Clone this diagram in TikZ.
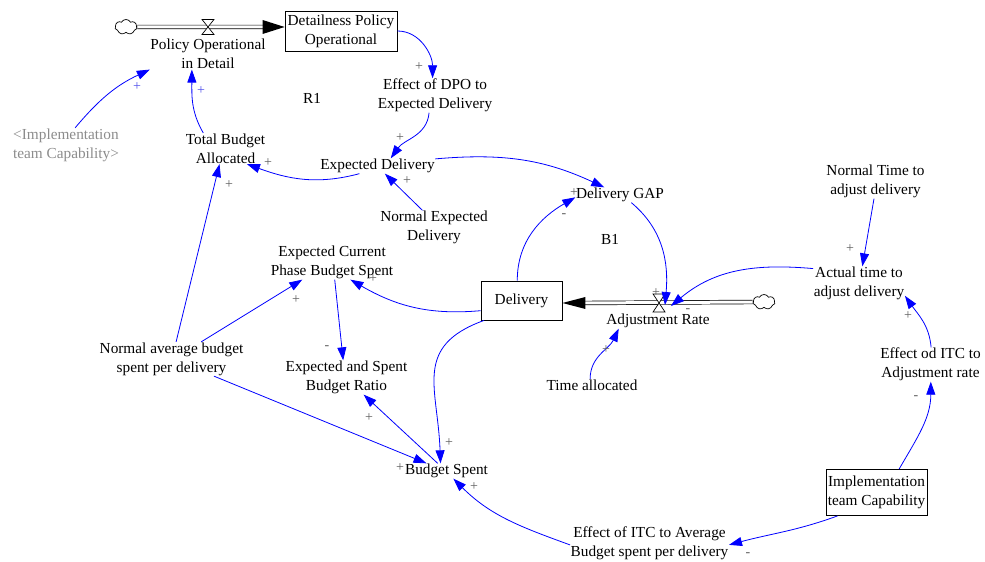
\documentclass[tikz,border=0pt]{standalone}
\usepackage{fontspec}
\setmainfont{Liberation Serif}
\usetikzlibrary{arrows.meta,shapes.symbols}

\definecolor{linkblue}{RGB}{0,0,255}
\definecolor{shadowgray}{RGB}{140,140,140}
\definecolor{signgray}{RGB}{95,95,95}
\definecolor{signblue}{RGB}{80,80,235}

\begin{document}
\begin{tikzpicture}[x=1pt,y=1pt,
  var/.style={font=\fontsize{15.3}{19}\selectfont, align=center, inner sep=0.5pt},
  shadowvar/.style={var, text=shadowgray},
  stock/.style={var, draw, line width=0.8pt, fill=white, inner sep=0pt},
  link/.style={draw=linkblue, line width=0.8pt, -{Triangle[length=13pt,width=9pt]}},
  pipe/.style={draw=black, line width=0.7pt, double=white, double distance=3pt},
  flowtip/.style={fill=black},
  valvebody/.style={draw=black, line width=0.7pt, fill=white},
  sourcecloud/.style={cloud, draw, line width=0.7pt, fill=white, cloud puffs=7,
    cloud puff arc=120, aspect=1.5, minimum width=22pt, minimum height=15pt, inner sep=0pt},
  sgn/.style={font=\fontsize{14}{14}\selectfont, text=signgray, inner sep=0pt},
  bsgn/.style={sgn, text=signblue},
]
\useasboundingbox (0,0) rectangle (985,562);

% ---------- stocks ----------
\node[stock, minimum width=112pt, minimum height=40pt] (dpo) at (341,531) {Detailness Policy\\Operational};
\node[stock, minimum width=81pt, minimum height=39pt] (delivery) at (521.5,261.5) {Delivery};
\node[stock, minimum width=101pt, minimum height=46pt] (itc) at (876.5,69.5) {Implementation\\team Capability};

% ---------- flows ----------
\node[sourcecloud] (cloudL) at (126,535) {};
\node[sourcecloud] (cloudR) at (764,260) {};
\coordinate (valve1) at (208,535);
\coordinate (valve2) at (659,259);
\coordinate (tip1) at (dpo.west |- valve1);
\coordinate (tip2) at (delivery.east |- valve2);

\draw[pipe] (cloudL.east) -- ([xshift=-21pt]tip1);
\fill[flowtip] (tip1) -- ++(-22,7) -- ++(0,-14) -- cycle;
\draw[valvebody] ([shift={(-6,7.5)}]valve1) -- ++(12,0) -- ++(-12,-15) -- ++(12,0) -- cycle;

\draw[pipe] (cloudR.west) -- ([xshift=22pt]tip2);
\fill[flowtip] (tip2) -- ++(23,6) -- ++(0,-12) -- cycle;
\draw[valvebody] ([shift={(-6,9)}]valve2) -- ++(12,0) -- ++(-12,-18) -- ++(12,0) -- cycle;

\coordinate (vtipA) at (665,257);
\coordinate (vtipB) at (671,256);

% ---------- auxiliaries ----------
\node[var] (pod) at (208,508) {Policy Operational\\in Detail};
\node[var] (r1) at (312,464) {R1};
\node[var] (effdpo) at (435,466.5) {Effect of DPO to\\Expected Delivery};
\node[var] (expdel) at (377.5,396) {Expected Delivery};
\node[var] (tba) at (225.5,413.5) {Total Budget\\Allocated};
\node[shadowvar] (itcsh) at (66,417) {<Implementation\\team Capability>};
\node[var] (ned) at (434,334.5) {Normal Expected\\Delivery};
\node[var] (dgap) at (620,367) {Delivery GAP};
\node[var] (b1) at (610,323) {B1};
\node[var] (adjrate) at (658,241) {Adjustment Rate};
\node[var] (atad) at (859,278.5) {Actual time to\\adjust delivery};
\node[var] (ntad) at (875.5,380.5) {Normal Time to\\adjust delivery};
\node[var] (effitcadj) at (930.5,197.5) {Effect od ITC to\\Adjustment rate};
\node[var] (effitcavg) at (649.5,18.5) {Effect of ITC to Average\\Budget spent per delivery};
\node[var] (bs) at (446.5,91) {Budget Spent};
\node[var] (esbr) at (346.5,184.5) {Expected and Spent\\Budget Ratio};
\node[var] (ecpbs) at (332,299.5) {Expected Current\\Phase Budget Spent};
\node[var] (nabs) at (171.5,203) {Normal average budget\\spent per delivery};
\node[var] (ta) at (592,177) {Time allocated};

% ---------- causal links ----------
\draw[link] (dpo.east) to[out=0,in=90] (effdpo.98);
\draw[link] (effdpo.-109) to[out=-95,in=55] (expdel.30);
\draw[link] (expdel.-157) to[out=195,in=-20] (tba.-36);
\draw[link] (tba.145) to[out=120,in=-90] (pod.-136);
\draw[link] (itcsh.62) to[out=50,in=-155] (pod.-165);
\draw[link] (ned.124) -- (expdel.-46);
\draw[link] (expdel.7) to[out=5,in=155] (dgap.154);
\draw[link] (delivery.102) to[out=90,in=-150] (dgap.183);
\draw[link] (dgap.-34) to[out=-40,in=85] (vtipA);
\draw[link] (atad.162) to[out=175,in=40] (vtipB);
\draw[link] (ntad.-95) -- (atad.79);
\draw[link] (effitcadj.88) to[out=95,in=-55] (atad.-15);
\draw[link] (itc.46) to[out=60,in=-90] (effitcadj.-89);
\draw[link] (itc.-149) to[out=-160,in=15] (effitcavg.-1);
\draw[link] (effitcavg.181) to[out=160,in=-45] (bs.-48);
\draw[link] (delivery.-152) to[out=-160,in=92,looseness=1.3] (bs.128);
\draw[link] (nabs.-22) -- (bs.159);
\draw[link] (bs.139) -- (esbr.-45);
\draw[link] (ecpbs.-81) -- (esbr.101);
\draw[link] (delivery.-166) to[out=185,in=-30] (ecpbs.-43);
\draw[link] (nabs.30) -- (ecpbs.-150);
\draw[link] (nabs.75) -- (tba.-111);
\draw[link] (ta.107) to[out=90,in=-115] (adjrate.-169);

% ---------- polarities ----------
\node[sgn] at (419,495) {+};
\node[sgn] at (400,424) {+};
\node[sgn] at (268,399) {+};
\node[bsgn] at (201,471) {+};
\node[bsgn] at (137,475) {+};
\node[sgn] at (407,381) {+};
\node[sgn] at (574,369) {+};
\node[sgn] at (564,346) {-};
\node[sgn] at (656,269) {+};
\node[sgn] at (688,251) {-};
\node[sgn] at (850,313) {+};
\node[sgn] at (908,246) {+};
\node[sgn] at (916,164) {-};
\node[sgn] at (748,7) {-};
\node[sgn] at (474,75) {+};
\node[sgn] at (400,94) {+};
\node[sgn] at (449,119) {+};
\node[sgn] at (369,144) {+};
\node[sgn] at (327,214) {-};
\node[sgn] at (373,283) {+};
\node[sgn] at (296,262) {+};
\node[sgn] at (229,377) {+};
\node[sgn] at (606,212) {+};
\end{tikzpicture}
\end{document}
